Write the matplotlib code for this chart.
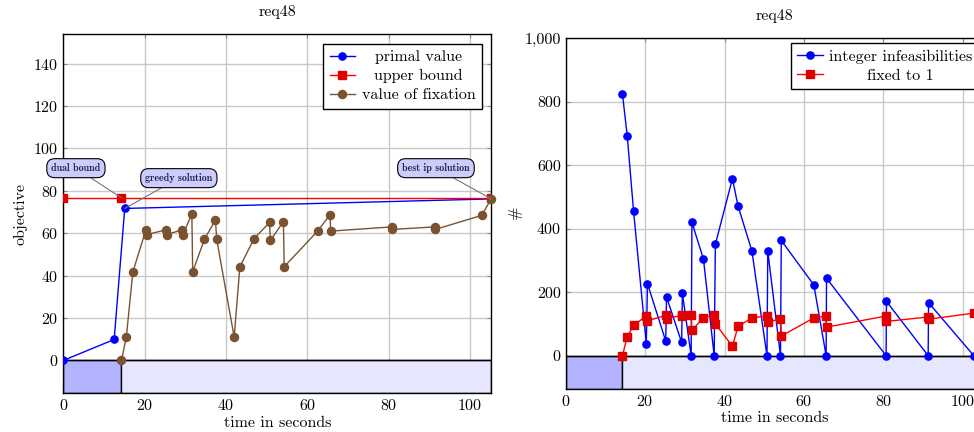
import matplotlib
matplotlib.use("Agg")
import matplotlib.pyplot as plt
from matplotlib.ticker import FuncFormatter

# ========== data ==========
PRESOLVE_END = 14.3
T_END = 105.2

primal_t = [0.0, 12.5, 15.1, 105.2]
primal_v = [0.0, 9.9, 71.7, 76.2]

upper_t = [0.0, 14.3, 105.2]
upper_v = [76.7, 76.7, 76.7]

fix_t = [14.3, 15.5, 17.1, 20.3, 20.6, 25.2, 25.4, 29.2, 29.4, 31.6, 31.8, 34.7,
         37.4, 37.7, 42.0, 43.4, 46.9, 50.7, 50.9, 54.1, 54.3, 62.5, 65.6, 65.7,
         80.7, 80.8, 91.3, 91.4, 102.8, 105.2]
fix_v = [0.0, 11.2, 41.8, 61.6, 59.4, 61.6, 59.4, 61.6, 59.4, 69.1, 41.8, 57.2,
         66.3, 57.2, 11.0, 44.2, 57.5, 65.1, 56.6, 65.5, 44.2, 61.0, 68.8, 61.0,
         63.0, 61.8, 63.0, 61.8, 68.4, 76.2]

int_infeas = [824, 693, 455, 38, 227, 46, 185, 42, 196, 0, 420, 304,
              0, 351, 558, 472, 330, 0, 330, 0, 363, 223, 0, 244,
              0, 171, 0, 167, 0, 0]
fixed_to_1 = [0, 60, 96, 125, 110, 127, 117, 127, 125, 129, 80, 120,
              127, 100, 30, 92, 119, 125, 105, 117, 62, 119, 125, 90,
              125, 108, 122, 115, 134, 137]

# annotations: (text, box position, target point)
notes = [("dual bound", (3.1, 90.7), (14.3, 76.7)),
         ("greedy solution", (28.4, 86.0), (15.1, 71.7)),
         ("best ip solution", (91.6, 90.7), (105.2, 76.2))]

# ========== style ==========
plt.rcParams["font.family"] = "serif"
plt.rcParams["font.serif"] = ["cmr10"]
plt.rcParams["mathtext.fontset"] = "cm"
plt.rcParams["axes.formatter.use_mathtext"] = True
plt.rcParams["axes.unicode_minus"] = False

BLUE = "#0000ff"
RED = "#ff0000"
RED_M = "#e00000"
BROWN = "#7a5230"
GRID = "#c8c8c8"
DARK_FILL = "#b3b3ff"
LIGHT_FILL = "#e6e6ff"
FS = 11.5

fig = plt.figure(figsize=(9.74, 4.32), dpi=100)
ax1 = fig.add_axes([0.065, 0.0896, 0.4394, 0.8317])
ax2 = fig.add_axes([0.5808, 0.0995, 0.4288, 0.8118])


def setup_axis(ax, ymin, ymax):
    ax.set_xlim(0, T_END)
    ax.set_ylim(ymin, ymax)
    ax.fill_between([0, PRESOLVE_END], ymin, 0, facecolor=DARK_FILL,
                    edgecolor="black", linewidth=1, zorder=1)
    ax.fill_between([PRESOLVE_END, T_END], ymin, 0, facecolor=LIGHT_FILL,
                    edgecolor="black", linewidth=1, zorder=1)
    ax.axhline(0, color="black", linewidth=1, zorder=1.5)
    ax.grid(True, color=GRID, linewidth=1)
    ax.set_axisbelow(True)
    ax.tick_params(direction="in", length=3, color="#888888", labelsize=FS,
                   top=True, right=True)
    ax.set_xticks([0, 20, 40, 60, 80, 100])
    ax.set_xlabel("time in seconds", fontsize=FS, labelpad=2)
    ax.set_title("req48", fontsize=11.5, pad=13)
    for s in ax.spines.values():
        s.set_linewidth(1)


def make_legend(ax, pad):
    leg = ax.legend(loc="upper right", fontsize=FS, fancybox=False,
                    edgecolor="black", framealpha=1, borderaxespad=pad,
                    handlelength=1.6, handletextpad=0.4, borderpad=0.4,
                    labelspacing=0.3)
    leg.get_frame().set_linewidth(1)
    return leg


# ========== left: objective ==========
setup_axis(ax1, -15.5, 154)
ax1.set_yticks(range(0, 141, 20))
ax1.set_ylabel("objective", fontsize=FS, labelpad=4)

ax1.plot(primal_t, primal_v, color=BLUE, marker="o", markersize=5.2,
         linewidth=1, label="primal value", zorder=3)
ax1.plot(upper_t, upper_v, color=RED, marker="s", markersize=5.2,
         markerfacecolor=RED_M, markeredgecolor=RED_M, linewidth=1,
         label="upper bound", zorder=3)
ax1.plot(fix_t, fix_v, color=BROWN, marker="o", markersize=5.8,
         linewidth=1, label="value of fixation", zorder=4, clip_on=False)

for text, box, target in notes:
    ax1.annotate(text, xy=target, xytext=box, ha="center", va="center",
                 fontsize=7.2, family="cmb10", color="#222244",
                 bbox=dict(boxstyle="round,pad=0.45,rounding_size=0.8",
                           facecolor="#ccccff", edgecolor="black", linewidth=0.8),
                 arrowprops=dict(arrowstyle="-", color="#777777", linewidth=0.8,
                                 shrinkA=0, shrinkB=0),
                 zorder=5)

leg1 = make_legend(ax1, 0.6)

# ========== right: counts ==========
setup_axis(ax2, -105, 1000)
ax2.set_yticks(range(0, 1001, 200))
ax2.yaxis.set_major_formatter(FuncFormatter(lambda v, p: f"{v:,.0f}"))
ax2.set_ylabel("#", fontsize=FS, labelpad=2)

ax2.plot(fix_t, int_infeas, color=BLUE, marker="o", markersize=5.2,
         linewidth=1, label="integer infeasibilities", zorder=3)
ax2.plot(fix_t, fixed_to_1, color=RED, marker="s", markersize=5.2,
         markerfacecolor=RED_M, markeredgecolor=RED_M, linewidth=1,
         label="fixed to 1", zorder=3)

leg2 = make_legend(ax2, 0.3)

# centre the legend entries like pgfplots does
fig.canvas.draw()
renderer = fig.canvas.get_renderer()
for leg in (leg1, leg2):
    widths = [t.get_window_extent(renderer).width for t in leg.get_texts()]
    for t, w in zip(leg.get_texts(), widths):
        t.set_x((max(widths) - w) / 2)

fig.savefig("out.png", dpi=100)
